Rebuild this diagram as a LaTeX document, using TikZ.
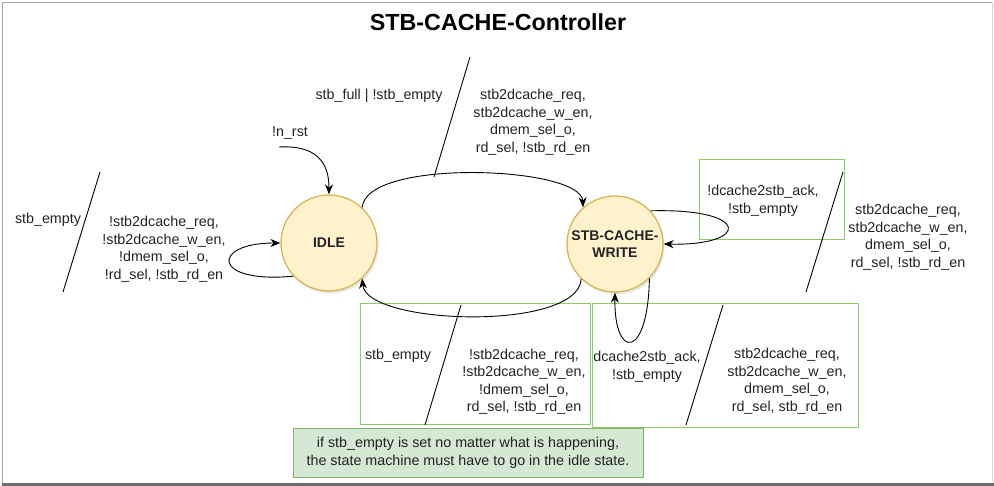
\documentclass[tikz,border=0pt]{standalone}
\usepackage{fontspec}
\setmainfont{Liberation Sans}
\usetikzlibrary{arrows.meta,shadows}
\definecolor{stfill}{HTML}{FFF2CC}
\definecolor{ststroke}{HTML}{D6B656}
\definecolor{gbox}{HTML}{8CCB6A}
\definecolor{notefill}{HTML}{D5E8D4}
\definecolor{notestroke}{HTML}{82B366}
\definecolor{txt}{HTML}{222222}
\begin{document}
\begin{tikzpicture}[x=1pt,y=-1pt,
  state/.style={circle, draw=ststroke, fill=stfill, line width=1.3pt, minimum size=96pt, inner sep=0pt,
     font=\bfseries\fontsize{14}{17}\selectfont, align=center, text=txt,
     drop shadow={opacity=0.18, shadow xshift=1.5pt, shadow yshift=-2.5pt}},
  lbl/.style={font=\fontsize{14.3}{17.5}\selectfont, align=center, text=txt, inner sep=0pt},
  arr/.style={draw=black, line width=0.9pt, -{Stealth[length=10pt,width=8pt]}},
  slash/.style={draw=black, line width=0.9pt},
  gframe/.style={draw=gbox, line width=1pt},
  note/.style={draw=notestroke, fill=notefill, line width=1pt, minimum width=350pt, minimum height=48pt,
     font=\fontsize{14.3}{18}\selectfont, align=center, text=txt}
]
\useasboundingbox (0,0) rectangle (994,486);
% frame
\draw[gray!70, line width=1.5pt] (2.5,485) -- (2.5,2.5) -- (992.5,2.5);
\draw[gray!30, line width=1.2pt] (992.5,2.5) -- (992.5,484);
\draw[gray!85!black, line width=2.5pt] (1.5,484.5) -- (994,484.5);

% title
\node[font=\bfseries\fontsize{23.3}{27}\selectfont, text=black] (title) at (498,22) {STB-CACHE-Controller};

% green frames
\node[gframe, minimum width=145pt, minimum height=80pt, inner sep=0pt] (box1) at (771.5,199.5) {};
\node[gframe, minimum width=230pt, minimum height=121pt, inner sep=0pt] (box2) at (475,364.5) {};
\node[gframe, minimum width=266pt, minimum height=124pt, inner sep=0pt] (box3) at (725,366) {};

% states
\node[state] (idle) at (329,243) {IDLE};
\node[state] (write) at (615,244) {STB-CACHE-\\WRITE};

% reset
\node[lbl] (nrst) at (290,133) {!n\_rst};
\coordinate (nrstart) at (279,147);
\draw[arr] (nrstart) .. controls (316,145) and (329,162) .. (idle.north);

% idle self loop
\draw[arr] (idle.223) .. controls (211,284) and (211,243) .. (idle.west);
\node[lbl] (lstay) at (48,220) {stb\_empty};
\coordinate (s0a) at (100,172);
\coordinate (s0b) at (63,292);
\draw[slash] (s0a) -- (s0b);
\node[lbl] (lstayout) at (164,249) {!stb2dcache\_req,\\!stb2dcache\_w\_en,\\!dmem\_sel\_o,\\!rd\_sel, !stb\_rd\_en};

% idle -> write
\draw[arr] (idle.47) .. controls (366,158) and (581,166) .. (write.131);
\node[lbl] (t1in) at (379,96) {stb\_full | !stb\_empty};
\coordinate (s1a) at (470,57);
\coordinate (s1b) at (434,177);
\draw[slash] (s1a) -- (s1b);
\node[lbl] (t1out) at (533,122) {stb2dcache\_req,\\stb2dcache\_w\_en,\\dmem\_sel\_o,\\rd\_sel, !stb\_rd\_en};

% write right self loop
\draw[arr] (write.43) .. controls (752,208) and (750,246) .. (write.east);
\node[lbl] (t2in) at (763,201) {!dcache2stb\_ack,\\!stb\_empty};
\coordinate (s2a) at (843,172);
\coordinate (s2b) at (806,292);
\draw[slash] (s2a) -- (s2b);
\node[lbl] (t2out) at (908,237) {stb2dcache\_req,\\stb2dcache\_w\_en,\\dmem\_sel\_o,\\rd\_sel, !stb\_rd\_en};

% write -> idle
\draw[arr] (write.226) .. controls (578,332) and (366,325) .. (idle.313);
\node[lbl] (t3in) at (398,356) {stb\_empty};
\coordinate (s3a) at (461,305);
\coordinate (s3b) at (425,425);
\draw[slash] (s3a) -- (s3b);
\node[lbl] (t3out) at (524,381.5) {!stb2dcache\_req,\\!stb2dcache\_w\_en,\\!dmem\_sel\_o,\\rd\_sel, !stb\_rd\_en};

% write bottom self loop
\draw[arr] (write.-45) .. controls (648,360) and (614,360) .. (write.south);
\node[lbl] (t4in) at (647,367) {dcache2stb\_ack,\\!stb\_empty};
\coordinate (s4a) at (723,305);
\coordinate (s4b) at (686,425);
\draw[slash] (s4a) -- (s4b);
\node[lbl] (t4out) at (787,381) {stb2dcache\_req,\\stb2dcache\_w\_en,\\dmem\_sel\_o,\\rd\_sel, stb\_rd\_en};

% note
\node[note] (notebox) at (468,453) {if stb\_empty is set no matter what is happening,\\the state machine must have to go in the idle state.};
\end{tikzpicture}
\end{document}
